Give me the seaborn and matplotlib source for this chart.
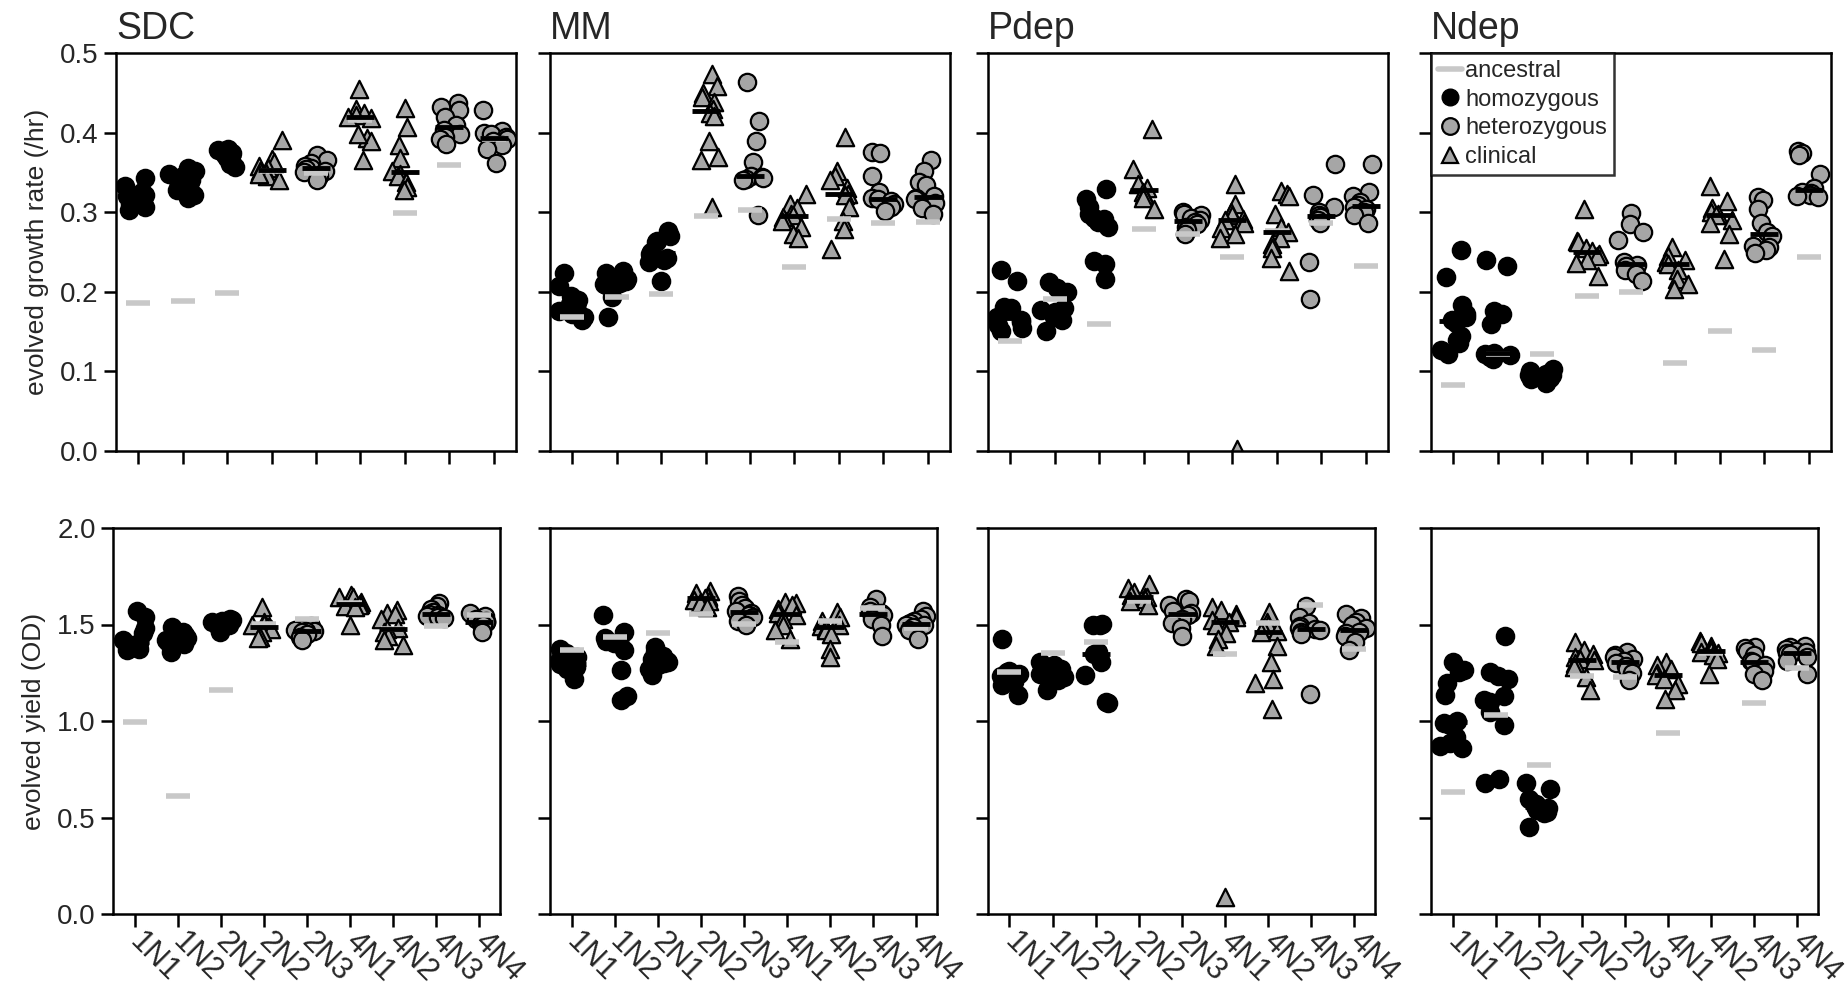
import numpy as np
import pandas as pd
import seaborn as sns
import matplotlib.pyplot as plt
from matplotlib.lines import Line2D

sns.set_style("ticks")
plt.rcParams['font.family'] = ['Liberation Sans', 'DejaVu Sans']

strains = ['1N1', '1N2', '2N1', '2N2', '2N3', '4N1', '4N2', '4N3', '4N4']
# genotype class of each strain (same in every panel)
kind = ['homozygous', 'homozygous', 'homozygous', 'clinical', 'heterozygous',
        'clinical', 'clinical', 'heterozygous', 'heterozygous']
media = ['SDC', 'MM', 'Pdep', 'Ndep']

# growth rate (/hr), one list of replicates per strain
sdc_rate = [
    [0.343, 0.333, 0.326, 0.322, 0.318, 0.314, 0.310, 0.306, 0.303, 0.320],
    [0.355, 0.352, 0.348, 0.345, 0.340, 0.337, 0.333, 0.328, 0.322, 0.318],
    [0.380, 0.378, 0.377, 0.375, 0.374, 0.372, 0.370, 0.368, 0.365, 0.360, 0.357],
    [0.391, 0.367, 0.363, 0.358, 0.355, 0.352, 0.349, 0.345, 0.341, 0.348],
    [0.372, 0.366, 0.362, 0.358, 0.356, 0.354, 0.352, 0.350, 0.345, 0.341],
    [0.455, 0.430, 0.425, 0.422, 0.420, 0.418, 0.393, 0.390, 0.398, 0.366],
    [0.431, 0.407, 0.384, 0.368, 0.352, 0.348, 0.345, 0.338, 0.332, 0.328],
    [0.437, 0.432, 0.428, 0.420, 0.410, 0.403, 0.398, 0.395, 0.392, 0.386],
    [0.428, 0.402, 0.400, 0.398, 0.395, 0.392, 0.390, 0.385, 0.380, 0.362],
]
mm_rate = [
    [0.224, 0.207, 0.195, 0.190, 0.185, 0.180, 0.176, 0.172, 0.168, 0.165],
    [0.226, 0.224, 0.216, 0.214, 0.213, 0.211, 0.210, 0.208, 0.193, 0.168],
    [0.277, 0.270, 0.264, 0.262, 0.250, 0.247, 0.243, 0.240, 0.237, 0.214],
    [0.474, 0.458, 0.450, 0.445, 0.438, 0.430, 0.425, 0.421, 0.390, 0.369, 0.365, 0.306],
    [0.463, 0.414, 0.389, 0.363, 0.346, 0.344, 0.343, 0.342, 0.340, 0.296],
    [0.323, 0.310, 0.305, 0.298, 0.296, 0.294, 0.289, 0.281, 0.272, 0.268],
    [0.394, 0.352, 0.346, 0.340, 0.331, 0.323, 0.321, 0.306, 0.289, 0.279, 0.254],
    [0.376, 0.375, 0.345, 0.325, 0.318, 0.316, 0.314, 0.310, 0.306, 0.302],
    [0.365, 0.352, 0.338, 0.334, 0.320, 0.318, 0.316, 0.312, 0.305, 0.298],
]
pdep_rate = [
    [0.227, 0.214, 0.181, 0.180, 0.168, 0.165, 0.162, 0.158, 0.155, 0.151],
    [0.212, 0.205, 0.200, 0.180, 0.177, 0.175, 0.172, 0.168, 0.165, 0.151],
    [0.329, 0.316, 0.306, 0.298, 0.293, 0.291, 0.288, 0.281, 0.239, 0.235, 0.216],
    [0.404, 0.354, 0.335, 0.330, 0.325, 0.322, 0.318, 0.304],
    [0.300, 0.298, 0.296, 0.293, 0.290, 0.288, 0.285, 0.282, 0.278, 0.272],
    [0.335, 0.310, 0.300, 0.297, 0.292, 0.290, 0.287, 0.280, 0.272, 0.268, 0.002],
    [0.327, 0.323, 0.320, 0.298, 0.282, 0.275, 0.268, 0.260, 0.255, 0.243, 0.226],
    [0.360, 0.321, 0.307, 0.300, 0.296, 0.294, 0.290, 0.287, 0.237, 0.191],
    [0.360, 0.325, 0.320, 0.313, 0.309, 0.306, 0.304, 0.300, 0.296, 0.287],
]
ndep_rate = [
    [0.252, 0.219, 0.184, 0.172, 0.168, 0.165, 0.161, 0.145, 0.140, 0.136, 0.127, 0.122],
    [0.240, 0.233, 0.176, 0.172, 0.159, 0.123, 0.122, 0.121, 0.120, 0.118, 0.115],
    [0.103, 0.100, 0.098, 0.097, 0.096, 0.095, 0.094, 0.092, 0.090, 0.085],
    [0.304, 0.264, 0.262, 0.255, 0.251, 0.248, 0.245, 0.240, 0.236, 0.220],
    [0.299, 0.285, 0.275, 0.265, 0.237, 0.234, 0.232, 0.228, 0.222, 0.214],
    [0.256, 0.245, 0.240, 0.237, 0.235, 0.228, 0.216, 0.210, 0.203],
    [0.333, 0.314, 0.305, 0.300, 0.298, 0.296, 0.290, 0.287, 0.272, 0.241],
    [0.319, 0.315, 0.304, 0.287, 0.275, 0.270, 0.258, 0.256, 0.252, 0.249],
    [0.377, 0.375, 0.372, 0.348, 0.330, 0.326, 0.324, 0.322, 0.320, 0.319],
]

# yield (OD)
sdc_yield = [
    [1.569, 1.540, 1.480, 1.455, 1.420, 1.402, 1.395, 1.385, 1.375, 1.367],
    [1.488, 1.460, 1.445, 1.430, 1.425, 1.418, 1.410, 1.400, 1.384, 1.359],
    [1.531, 1.525, 1.520, 1.515, 1.510, 1.505, 1.500, 1.495, 1.480, 1.462],
    [1.591, 1.514, 1.505, 1.495, 1.490, 1.485, 1.475, 1.462, 1.436, 1.430],
    [1.490, 1.485, 1.478, 1.470, 1.468, 1.465, 1.460, 1.450, 1.435, 1.419],
    [1.652, 1.645, 1.640, 1.615, 1.608, 1.603, 1.598, 1.590, 1.497],
    [1.574, 1.560, 1.555, 1.530, 1.482, 1.476, 1.460, 1.440, 1.419, 1.393],
    [1.609, 1.595, 1.580, 1.565, 1.555, 1.548, 1.545, 1.540, 1.535],
    [1.557, 1.545, 1.530, 1.520, 1.515, 1.512, 1.505, 1.495, 1.462],
]
mm_yield = [
    [1.374, 1.350, 1.331, 1.310, 1.300, 1.295, 1.288, 1.280, 1.271, 1.219],
    [1.547, 1.460, 1.430, 1.415, 1.403, 1.366, 1.262, 1.129, 1.107],
    [1.383, 1.360, 1.335, 1.320, 1.310, 1.305, 1.300, 1.290, 1.270, 1.236],
    [1.676, 1.665, 1.650, 1.642, 1.635, 1.628, 1.620, 1.610, 1.590],
    [1.650, 1.620, 1.600, 1.585, 1.570, 1.560, 1.550, 1.540, 1.520, 1.495],
    [1.615, 1.610, 1.600, 1.580, 1.560, 1.550, 1.530, 1.500, 1.470, 1.426],
    [1.564, 1.540, 1.520, 1.500, 1.490, 1.480, 1.470, 1.450, 1.374, 1.331],
    [1.633, 1.590, 1.570, 1.560, 1.555, 1.550, 1.530, 1.500, 1.443],
    [1.572, 1.545, 1.530, 1.520, 1.510, 1.500, 1.495, 1.485, 1.470, 1.426],
]
pdep_yield = [
    [1.426, 1.260, 1.255, 1.245, 1.235, 1.220, 1.210, 1.200, 1.184, 1.134],
    [1.305, 1.290, 1.270, 1.260, 1.253, 1.245, 1.240, 1.230, 1.210, 1.159],
    [1.503, 1.500, 1.495, 1.360, 1.348, 1.346, 1.305, 1.236, 1.098, 1.095],
    [1.710, 1.690, 1.670, 1.655, 1.645, 1.640, 1.630, 1.620, 1.600],
    [1.633, 1.620, 1.600, 1.570, 1.560, 1.550, 1.530, 1.510, 1.480, 1.443],
    [1.590, 1.575, 1.555, 1.540, 1.525, 1.515, 1.500, 1.455, 1.426, 1.391, 0.090],
    [1.564, 1.512, 1.500, 1.480, 1.467, 1.460, 1.391, 1.305, 1.219, 1.195, 1.064],
    [1.598, 1.540, 1.510, 1.490, 1.480, 1.475, 1.470, 1.460, 1.453, 1.141],
    [1.555, 1.535, 1.515, 1.500, 1.480, 1.460, 1.455, 1.440, 1.410, 1.367],
]
ndep_yield = [
    [1.305, 1.262, 1.255, 1.195, 1.134, 1.000, 0.990, 0.980, 0.919, 0.885, 0.870, 0.859],
    [1.443, 1.253, 1.235, 1.219, 1.130, 1.110, 1.098, 1.047, 0.978, 0.698, 0.681],
    [0.681, 0.647, 0.598, 0.570, 0.560, 0.550, 0.540, 0.530, 0.522, 0.452],
    [1.409, 1.370, 1.345, 1.330, 1.320, 1.315, 1.300, 1.281, 1.229, 1.160],
    [1.357, 1.340, 1.330, 1.320, 1.310, 1.300, 1.285, 1.270, 1.250, 1.210],
    [1.305, 1.290, 1.270, 1.250, 1.240, 1.220, 1.190, 1.160, 1.116],
    [1.417, 1.405, 1.390, 1.375, 1.365, 1.357, 1.350, 1.340, 1.320, 1.245],
    [1.383, 1.380, 1.365, 1.340, 1.310, 1.305, 1.290, 1.260, 1.245, 1.210],
    [1.391, 1.385, 1.375, 1.365, 1.358, 1.350, 1.345, 1.330, 1.310, 1.245],
]

# ancestral values per strain
sdc_rate_anc = [0.186, 0.188, 0.198, 0.352, 0.349, 0.416, 0.299, 0.359, 0.392]
mm_rate_anc = [0.168, 0.194, 0.197, 0.295, 0.303, 0.231, 0.291, 0.287, 0.288]
pdep_rate_anc = [0.138, 0.191, 0.159, 0.279, 0.272, 0.244, 0.277, 0.287, 0.232]
ndep_rate_anc = [0.083, 0.122, 0.122, 0.195, 0.200, 0.110, 0.151, 0.127, 0.244]
sdc_yield_anc = [0.993, 0.609, 1.160, 1.505, 1.531, 1.610, 1.479, 1.493, 1.548]
mm_yield_anc = [1.366, 1.434, 1.457, 1.555, 1.503, 1.409, 1.516, 1.584, 1.481]
pdep_yield_anc = [1.253, 1.353, 1.409, 1.620, 1.550, 1.348, 1.509, 1.602, 1.374]
ndep_yield_anc = [0.633, 1.029, 0.771, 1.233, 1.228, 0.940, 1.350, 1.095, 1.274]

rate_sets = [(sdc_rate, sdc_rate_anc), (mm_rate, mm_rate_anc),
             (pdep_rate, pdep_rate_anc), (ndep_rate, ndep_rate_anc)]
yield_sets = [(sdc_yield, sdc_yield_anc), (mm_yield, mm_yield_anc),
              (pdep_yield, pdep_yield_anc), (ndep_yield, ndep_yield_anc)]

GRAY = '#a6a6a6'
ANC = '#c8c8c8'
styles = {
    'homozygous': dict(marker='o', color='black', edgecolor='black'),
    'heterozygous': dict(marker='o', color=GRAY, edgecolor='black'),
    'clinical': dict(marker='^', color=GRAY, edgecolor='black'),
}


def make_df(reps):
    rows = []
    for s, k, vals in zip(strains, kind, reps):
        for v in vals:
            rows.append((s, k, v))
    return pd.DataFrame(rows, columns=['strain', 'kind', 'value'])


def draw_panel(ax, reps, anc, seed):
    df = make_df(reps)
    np.random.seed(seed)
    for k, st in styles.items():
        sub = df[df.kind == k]
        sns.stripplot(data=sub, x='strain', y='value', order=strains, ax=ax,
                      jitter=0.3, size=12.5, linewidth=1.6, zorder=2, **st)
    anc_df = pd.DataFrame({'strain': strains, 'value': anc})
    sns.pointplot(data=anc_df, x='strain', y='value', order=strains, ax=ax,
                  errorbar=None, color=ANC, marker='_', linestyle='none',
                  markersize=17, markeredgewidth=4, zorder=3)
    sns.pointplot(data=df, x='strain', y='value', order=strains, ax=ax,
                  estimator='median', errorbar=None, color='black', marker='_',
                  linestyle='none', markersize=20, markeredgewidth=3.5, zorder=4)
    ax.set_xlim(-0.5, 8.5)
    ax.set_xlabel('')
    ax.set_ylabel('')
    for sp in ax.spines.values():
        sp.set_visible(True)
        sp.set_linewidth(1.8)
        sp.set_color('black')
    ax.tick_params(width=1.8, length=9, color='black', labelsize=20, direction='out')


W, H = 1846, 992
fig = plt.figure(figsize=(W / 100, H / 100), dpi=100)

top_left = [116, 550, 988, 1431]
bot_left = [113, 550, 988, 1431]

for i, (reps, anc) in enumerate(rate_sets):
    ax = fig.add_axes([top_left[i] / W, (H - 451) / H, 400 / W, 398 / H])
    draw_panel(ax, reps, anc, seed=10 + i)
    ax.set_ylim(0, 0.5)
    ax.set_yticks([0, 0.1, 0.2, 0.3, 0.4, 0.5])
    ax.set_xticks(range(len(strains)))
    ax.set_xticklabels([])
    ax.set_title(media[i], loc='left', fontsize=27, pad=10)
    if i == 0:
        ax.set_yticklabels(['0.0', '0.1', '0.2', '0.3', '0.4', '0.5'])
        ax.set_ylabel('evolved growth rate (/hr)', fontsize=19, labelpad=8)
    else:
        ax.set_yticklabels([])
    if i == 3:
        handles = [
            Line2D([], [], color=ANC, lw=4),
            Line2D([], [], marker='o', color='black', linestyle='none', markersize=12),
            Line2D([], [], marker='o', markerfacecolor=GRAY, markeredgecolor='black',
                   markeredgewidth=1.6, linestyle='none', markersize=12),
            Line2D([], [], marker='^', markerfacecolor=GRAY, markeredgecolor='black',
                   markeredgewidth=1.6, linestyle='none', markersize=12),
        ]
        leg = ax.legend(handles, ['ancestral', 'homozygous', 'heterozygous', 'clinical'],
                        loc='upper left', borderaxespad=0, fontsize=17, frameon=True,
                        fancybox=False, handlelength=1.0, handletextpad=0.15,
                        labelspacing=0.28, borderpad=0.3)
        leg.get_frame().set_edgecolor('black')
        leg.get_frame().set_linewidth(1.8)
        leg.set_zorder(10)

for i, (reps, anc) in enumerate(yield_sets):
    ax = fig.add_axes([bot_left[i] / W, (H - 914) / H, 387 / W, 386 / H])
    draw_panel(ax, reps, anc, seed=20 + i)
    ax.set_ylim(0, 2.0)
    ax.set_yticks([0, 0.5, 1.0, 1.5, 2.0])
    ax.set_xticks(range(len(strains)))
    ax.set_xticklabels(strains, rotation=-45, ha='left', va='center',
                       rotation_mode='anchor', fontsize=22)
    ax.tick_params(axis='x', pad=8)
    if i == 0:
        ax.set_yticklabels(['0.0', '0.5', '1.0', '1.5', '2.0'])
        ax.set_ylabel('evolved yield (OD)', fontsize=19, labelpad=8)
    else:
        ax.set_yticklabels([])

fig.savefig('out.png', dpi=100)
